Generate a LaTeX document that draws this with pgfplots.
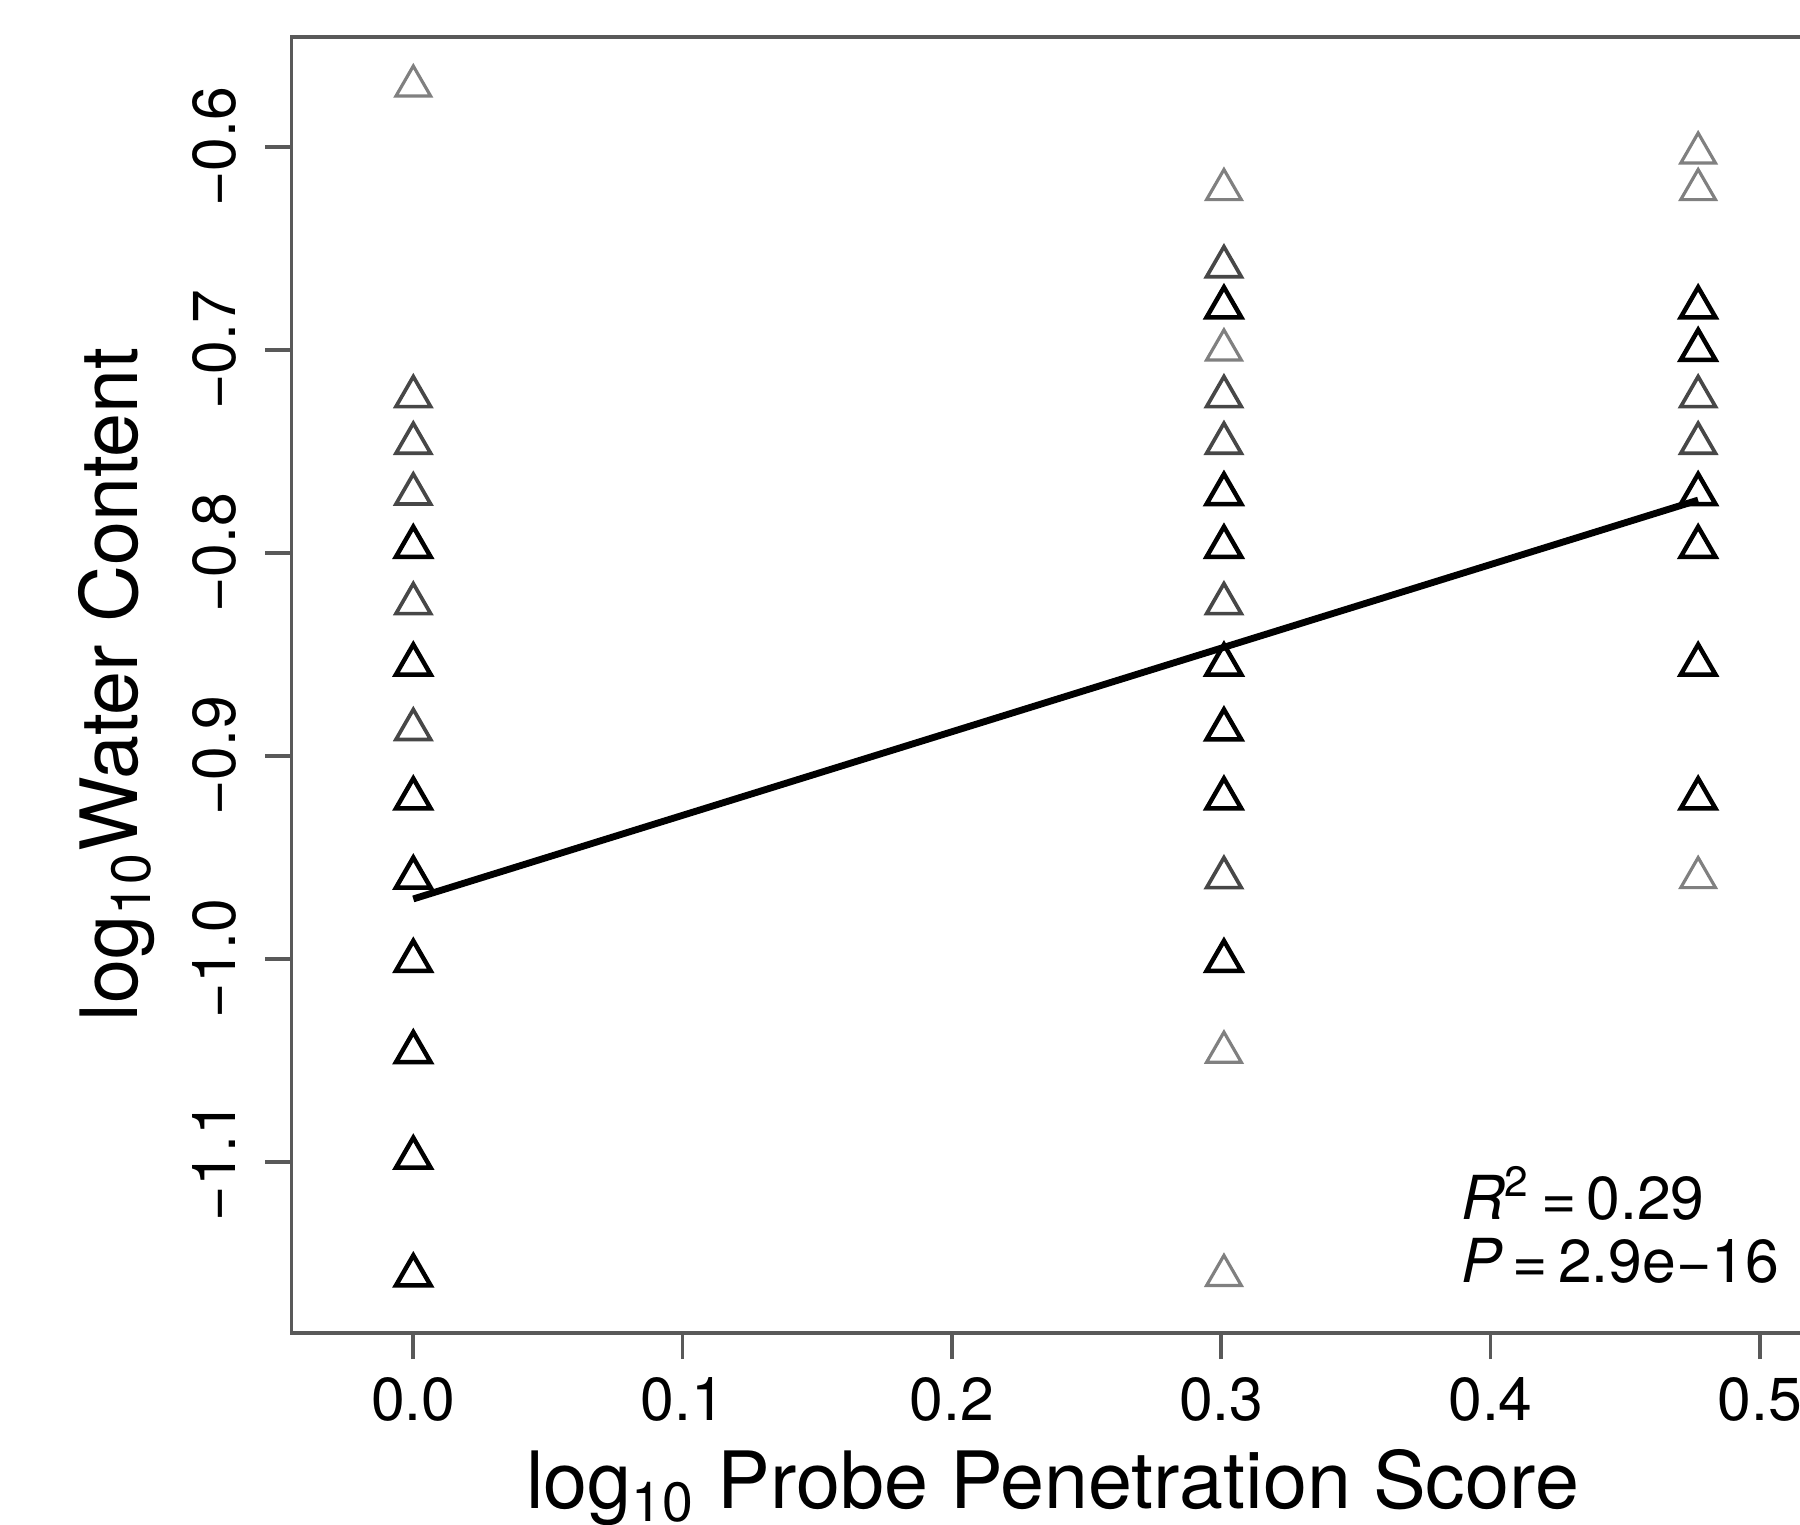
\documentclass[border=0pt]{standalone}
\usepackage{pgfplots}
\pgfplotsset{compat=1.18}
\usepackage{fontspec}
\setmainfont{TeX Gyre Heros}

\begin{document}
\begin{tikzpicture}
% the source figure is cut off at the right, so clip the picture the same way
\path[use as bounding box, clip] (-1.944,-1.278) rectangle (10.056,8.886);
\begin{axis}[
  scale only axis, width=10.865cm, height=8.641cm,
  xmin=-0.0452, xmax=0.56, ymin=-1.1843, ymax=-0.5457,
  clip=false,
  axis line style={black!65, line width=0.7pt},
  tick style={black!65, line width=0.7pt},
  tick align=outside, major tick length=0.175cm,
  xtick pos=bottom, ytick pos=left,
  xtick={0,0.1,0.2,0.3,0.4,0.5},
  xticklabels={0.0,0.1,0.2,0.3,0.4,0.5},
  ytick={-1.1,-1.0,-0.9,-0.8,-0.7,-0.6},
  yticklabels={−1.1,−1.0,−0.9,−0.8,−0.7,−0.6},
  tick label style={font=\fontsize{11.5}{13}\selectfont},
  xticklabel style={anchor=north, inner sep=0pt},
  yticklabel style={rotate=90, anchor=base, inner sep=0pt},
  xticklabel shift=0.115cm, yticklabel shift=0.2cm,
]
\addplot[only marks, mark=triangle, mark size=3.8pt, black!50,
  mark options={line width=0.6pt}] coordinates {
  (0,-0.570) (0.30103,-0.621) (0.30103,-0.700) (0.30103,-1.046)
  (0.30103,-1.156) (0.47712,-0.603) (0.47712,-0.621) (0.47712,-0.960)};
\addplot[only marks, mark=triangle, mark size=3.8pt, black!72,
  mark options={line width=0.7pt}] coordinates {
  (0,-0.723) (0,-0.746) (0,-0.771) (0,-0.825) (0,-0.887)
  (0.30103,-0.659) (0.30103,-0.723) (0.30103,-0.746) (0.30103,-0.825)
  (0.30103,-0.960) (0.47712,-0.723) (0.47712,-0.746)};
\addplot[only marks, mark=triangle, mark size=3.8pt, black,
  mark options={line width=0.85pt}] coordinates {
  (0,-0.797) (0,-0.855) (0,-0.921) (0,-0.960) (0,-1.001) (0,-1.046)
  (0,-1.098) (0,-1.156)
  (0.30103,-0.679) (0.30103,-0.771) (0.30103,-0.797) (0.30103,-0.855)
  (0.30103,-0.887) (0.30103,-0.921) (0.30103,-1.001)
  (0.47712,-0.679) (0.47712,-0.700) (0.47712,-0.771) (0.47712,-0.797)
  (0.47712,-0.855) (0.47712,-0.921)};
% fitted line
\addplot[black, line width=1.3pt] coordinates {(0,-0.9705) (0.47712,-0.774)};

\node[anchor=base west, inner sep=0pt, font=\fontsize{11.5}{13}\selectfont]
  at (axis cs:0.3887,-1.1283) {\textit{R}\textsuperscript{2}\,=\,0.29};
\node[anchor=base west, inner sep=0pt, font=\fontsize{11.5}{13}\selectfont]
  at (axis cs:0.3887,-1.1594) {\textit{P}\,=\,2.9e−16};

\node[anchor=base, inner sep=0pt, font=\fontsize{15}{17}\selectfont]
  at (axis cs:0.2374,-1.2710) {log\textsubscript{10} Probe Penetration Score};
\node[anchor=base, rotate=90, inner sep=0pt, font=\fontsize{15}{17}\selectfont]
  at (axis cs:-0.1023,-0.8647) {log\textsubscript{10}Water Content};
\end{axis}
\end{tikzpicture}
\end{document}
